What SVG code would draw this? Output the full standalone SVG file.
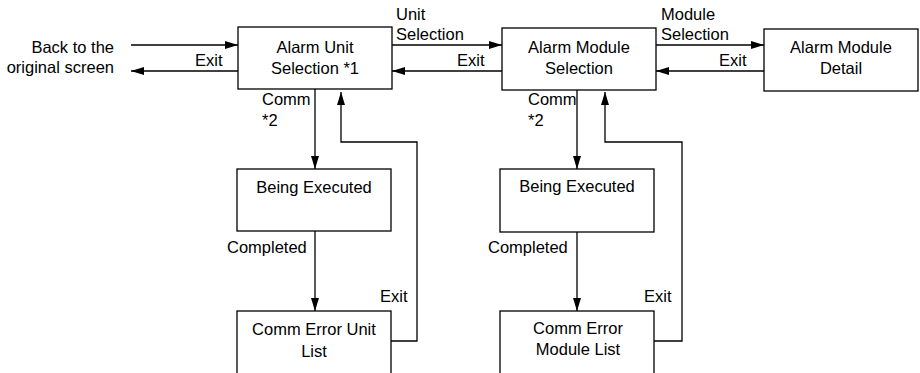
<svg xmlns="http://www.w3.org/2000/svg" width="920" height="373" viewBox="0 0 920 373">
<style>
text{font-family:"Liberation Sans",Arial,sans-serif;font-size:16.5px;fill:#000}
.c{text-anchor:middle}
.r{text-anchor:end}
.box{fill:#fff;stroke:#000;stroke-width:1.3}
.ln{fill:none;stroke:#000;stroke-width:1.3}
</style>
<defs>
<marker id="ah" markerWidth="13" markerHeight="8" refX="13" refY="4" orient="auto" markerUnits="userSpaceOnUse">
<path d="M0,0 L13,4 L0,8 Z" fill="#000"/>
</marker>
</defs>
<rect width="920" height="373" fill="#fff"/>
<g id="connectors">
<line class="ln" x1="131" y1="45" x2="238" y2="45" marker-end="url(#ah)"/>
<line class="ln" x1="238" y1="71" x2="131" y2="71" marker-end="url(#ah)"/>
<line class="ln" x1="392" y1="45" x2="502" y2="45" marker-end="url(#ah)"/>
<line class="ln" x1="502" y1="71" x2="392" y2="71" marker-end="url(#ah)"/>
<line class="ln" x1="656" y1="45" x2="764" y2="45" marker-end="url(#ah)"/>
<line class="ln" x1="764" y1="71" x2="656" y2="71" marker-end="url(#ah)"/>
<line class="ln" x1="315" y1="89" x2="315" y2="169" marker-end="url(#ah)"/>
<line class="ln" x1="315" y1="231" x2="315" y2="311" marker-end="url(#ah)"/>
<polyline class="ln" points="391,341 417,341 417,142 341,142 341,92" marker-end="url(#ah)"/>
<line class="ln" x1="577" y1="90" x2="577" y2="169" marker-end="url(#ah)"/>
<line class="ln" x1="577" y1="232" x2="577" y2="311" marker-end="url(#ah)"/>
<polyline class="ln" points="654,341 682,341 682,142 605,142 605,92" marker-end="url(#ah)"/>
<text class="r" x="114" y="53">Back to the</text>
<text class="r" x="114" y="73">original screen</text>
<text x="195" y="66">Exit</text>
<text x="396" y="20">Unit</text>
<text x="396" y="40">Selection</text>
<text x="457" y="66">Exit</text>
<text x="661" y="20">Module</text>
<text x="661" y="40">Selection</text>
<text x="719" y="66">Exit</text>
<text x="262" y="105">Comm</text>
<text x="262" y="126">*2</text>
<text x="528" y="105">Comm</text>
<text x="528" y="126">*2</text>
<text x="227" y="253">Completed</text>
<text x="488" y="253">Completed</text>
<text x="380" y="302">Exit</text>
<text x="644" y="302">Exit</text>
</g>
<g id="alarm-unit-selection">
<rect class="box" x="238" y="27" width="154" height="62"/>
<text class="c" x="315" y="53">Alarm Unit</text>
<text class="c" x="315" y="74">Selection *1</text>
</g>
<g id="alarm-module-selection">
<rect class="box" x="502" y="28" width="154" height="62"/>
<text class="c" x="579" y="53">Alarm Module</text>
<text class="c" x="579" y="74">Selection</text>
</g>
<g id="alarm-module-detail">
<rect class="box" x="764" y="29" width="154" height="62"/>
<text class="c" x="841" y="53">Alarm Module</text>
<text class="c" x="841" y="74">Detail</text>
</g>
<g id="being-executed-1">
<rect class="box" x="237" y="169" width="154" height="62"/>
<text class="c" x="314" y="193">Being Executed</text>
</g>
<g id="being-executed-2">
<rect class="box" x="500" y="169" width="154" height="63"/>
<text class="c" x="577" y="192">Being Executed</text>
</g>
<g id="comm-error-unit-list">
<rect class="box" x="237" y="311" width="154" height="70"/>
<text class="c" x="314" y="335">Comm Error Unit</text>
<text class="c" x="314" y="357">List</text>
</g>
<g id="comm-error-module-list">
<rect class="box" x="500" y="311" width="154" height="70"/>
<text class="c" x="578" y="334">Comm Error</text>
<text class="c" x="578" y="355">Module List</text>
</g>
</svg>
